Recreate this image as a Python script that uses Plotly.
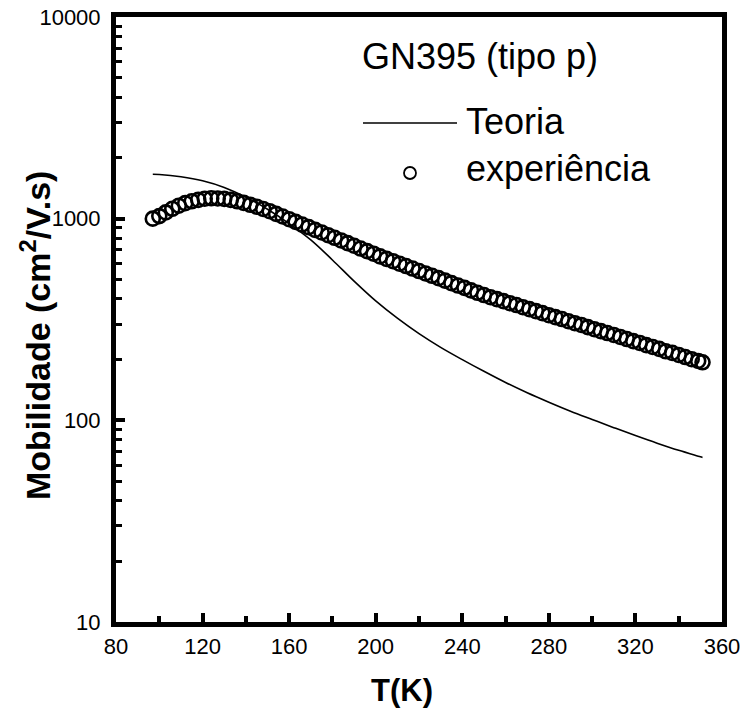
import plotly.graph_objects as go

# Experimental mobility (open circles)
T_exp = [97, 100, 103, 106, 109, 112, 115, 118, 121, 124, 127, 130, 133, 136, 139, 142,
         145, 148, 151, 154, 157, 160, 163, 166, 169, 172, 175, 178, 181, 184, 187, 190,
         193, 196, 199, 202, 205, 208, 211, 214, 217, 220, 223, 226, 229, 232, 235, 238,
         241, 244, 247, 250, 253, 256, 259, 262, 265, 268, 271, 274, 277, 280, 283, 286,
         289, 292, 295, 298, 301, 304, 307, 310, 313, 316, 319, 322, 325, 328, 331, 334,
         337, 340, 343, 346, 349, 351]
mu_exp = [1000, 1030, 1074, 1119, 1159, 1194, 1219, 1239, 1256, 1262, 1259, 1253, 1239, 1219,
          1197, 1172, 1146, 1117, 1089, 1056, 1025, 994, 964, 935, 908, 880, 854, 828, 804,
          780, 756, 734, 711, 690, 670, 650, 632, 615, 598, 582, 566, 550, 535, 521, 507,
          493, 479, 466, 454, 441, 429, 418, 408, 399, 390, 381, 373, 364, 356, 348, 340,
          332, 325, 318, 310, 303, 297, 290, 283, 277, 271, 265, 259, 253, 247, 242, 236,
          231, 226, 220, 216, 211, 206, 201, 197, 194]

# Theory curve (solid line)
T_th = [97, 100, 110, 120, 130, 140, 150, 160, 170, 180, 190, 200, 210, 220, 230, 240,
        250, 260, 270, 280, 290, 300, 310, 320, 330, 340, 350, 351]
mu_th = [1660, 1656, 1614, 1542, 1429, 1279, 1114, 946, 785, 624, 490, 391, 321, 269, 230,
         200, 175, 154, 137, 123, 111, 101, 92, 84, 77, 71, 66, 65.5]

x_ticks = [80, 120, 160, 200, 240, 280, 320, 360]
y_tickvals = [10, 100, 1000, 10000]
y_ticktext = ["10", "100", "1000", "10000"]

title_text = "GN395 (tipo p)"
legend_names = ["Teoria", "experiência"]
x_title = "T(K)"
y_title = "Mobilidade (cm<sup>2</sup>/V.s)"

FONT = "Liberation Sans"

fig = go.Figure()
fig.add_trace(go.Scatter(x=T_th, y=mu_th, mode="lines", name=legend_names[0],
                         line=dict(color="black", width=1.6), line_shape="spline"))
fig.add_trace(go.Scatter(x=T_exp, y=mu_exp, mode="markers", name=legend_names[1],
                         marker=dict(symbol="circle-open", size=14, color="black",
                                     line=dict(width=2.6, color="black"))))

L, R, TOP, BOT = 116, 18, 17, 90
W, H = 740, 712
pw = W - L - R
ph = H - TOP - BOT


def px_x(x):
    return (x - L) / pw


def px_y(y):
    return (H - BOT - y) / ph


fig.update_layout(
    width=W, height=H,
    margin=dict(l=L, r=R, t=TOP, b=BOT, autoexpand=False),
    paper_bgcolor="white", plot_bgcolor="white",
    showlegend=False,
    font=dict(family=FONT, color="black", size=22),
)
fig.update_xaxes(
    range=[79.999, 360.001], tickvals=x_ticks, ticks="inside", ticklen=9, tickwidth=4,
    tickcolor="black", showline=True, linewidth=5, linecolor="black", mirror=True,
    showgrid=False, zeroline=False, tickfont=dict(size=22, family=FONT),
    minor=dict(dtick=20, ticks="inside", ticklen=6, tickwidth=4, tickcolor="black", showgrid=False),
    ticklabelstandoff=1, automargin=False, ticklabeloverflow="allow",
)
fig.update_yaxes(
    type="log", range=[0.99999, 4.00001], tickvals=y_tickvals, ticktext=y_ticktext,
    ticks="inside", ticklen=9, tickwidth=4, tickcolor="black",
    showline=True, linewidth=5, linecolor="black", mirror=True,
    showgrid=False, zeroline=False, tickfont=dict(size=22, family=FONT),
    minor=dict(dtick="D1", ticks="inside", ticklen=6, tickwidth=3, tickcolor="black", showgrid=False),
    ticklabelstandoff=6, automargin=False, ticklabeloverflow="allow",
)

annotations = [
    dict(text="<b>" + x_title + "</b>", x=px_x(402), y=px_y(690), xref="paper", yref="paper",
         showarrow=False, font=dict(size=31, family=FONT), xanchor="center", yanchor="middle"),
    dict(text="<b>" + y_title + "</b>", x=px_x(35), y=px_y(336), xref="paper", yref="paper",
         showarrow=False, textangle=-90, font=dict(size=34, family=FONT),
         xanchor="center", yanchor="middle"),
    dict(text=title_text, x=px_x(360), y=px_y(56), xref="paper", yref="paper",
         showarrow=False, font=dict(size=36, family=FONT), xanchor="left", yanchor="middle"),
    dict(text=legend_names[0], x=px_x(464), y=px_y(121), xref="paper", yref="paper",
         showarrow=False, font=dict(size=36, family=FONT), xanchor="left", yanchor="middle"),
    dict(text=legend_names[1], x=px_x(464), y=px_y(168), xref="paper", yref="paper",
         showarrow=False, font=dict(size=36, family=FONT), xanchor="left", yanchor="middle"),
]
fig.update_layout(annotations=annotations)

shapes = [
    dict(type="line", xref="paper", yref="paper", x0=px_x(363), x1=px_x(457),
         y0=px_y(123), y1=px_y(123), line=dict(color="black", width=1.6)),
    dict(type="circle", xref="paper", yref="paper", xsizemode="pixel", ysizemode="pixel",
         xanchor=px_x(410), yanchor=px_y(173), x0=-6, x1=6, y0=-6, y1=6,
         line=dict(color="black", width=1.8)),
]
fig.update_layout(shapes=shapes)

fig.write_html("out.html")
